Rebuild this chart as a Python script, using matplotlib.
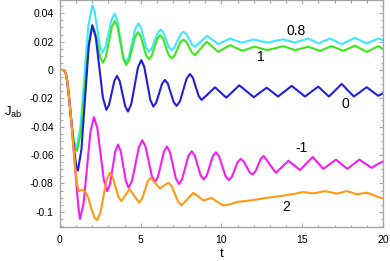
"""Current J_ab(t) for several coupling values, Mathematica-style frame."""

import matplotlib

matplotlib.use("Agg")
import matplotlib.pyplot as plt
from matplotlib.ticker import FixedLocator, MultipleLocator

# series (t, J_ab)
t_08 = [0, 0.25, 0.35, 0.45, 0.55, 0.65, 0.75, 0.85, 0.95, 1.02,
        1.265, 1.51, 1.755, 2.0, 2.155, 2.31, 2.465, 2.62, 2.81, 3.005, 3.2, 3.39,
        3.56, 3.73, 3.9, 4.07, 4.265, 4.46, 4.655, 4.85, 5.01, 5.175, 5.34, 5.5,
        5.68, 5.865, 6.05, 6.23, 6.4, 6.57, 6.74, 6.91, 7.09, 7.275, 7.46, 7.64,
        7.82, 8.0, 8.18, 8.36, 8.74, 9.12, 9.46, 9.8, 10.165, 10.53, 10.89, 11.25,
        11.61, 11.97, 12.41, 12.85, 13.33, 13.8, 14.18, 14.55, 14.96, 15.37, 15.69,
        16.0, 16.36, 16.72, 17.08, 17.44, 17.86, 18.27, 18.63, 18.99, 19.35, 19.71, 20.0]
j_08 = [0, 0, -0.002, -0.008, -0.018, -0.030, -0.041, -0.050, -0.054, -0.055,
        -0.0403, -0.0047, 0.0309, 0.0456, 0.0407, 0.0289, 0.0170, 0.0121, 0.0161, 0.026, 0.0358, 0.0398,
        0.0347, 0.0225, 0.0102, 0.0051, 0.0091, 0.019, 0.0288, 0.0328, 0.0299, 0.0228, 0.0157, 0.0128,
        0.0151, 0.0207, 0.0262, 0.0285, 0.0264, 0.0213, 0.0161, 0.014, 0.0159, 0.0205, 0.025, 0.0269,
        0.0254, 0.0217, 0.0179, 0.0164, 0.0203, 0.0241, 0.0212, 0.0182, 0.0202, 0.0222, 0.0207, 0.0192,
        0.0204, 0.0215, 0.0204, 0.0193, 0.0205, 0.0216, 0.0205, 0.0194, 0.0208, 0.0222, 0.0205,
        0.0187, 0.0205, 0.0222, 0.0202, 0.0182, 0.0205, 0.0227, 0.0207, 0.0187, 0.0205, 0.0222, 0.021]

t_1 = [0, 0.25, 0.35, 0.45, 0.55, 0.65, 0.75, 0.85, 0.95, 1.06,
       1.295, 1.53, 1.765, 2.0, 2.165, 2.33, 2.495, 2.66, 2.84, 3.025, 3.21, 3.39,
       3.57, 3.745, 3.92, 4.1, 4.28, 4.465, 4.65, 4.83, 4.995, 5.165, 5.33, 5.5,
       5.675, 5.85, 6.025, 6.2, 6.38, 6.555, 6.73, 6.91, 7.09, 7.275, 7.46, 7.64,
       7.82, 8.0, 8.18, 8.36, 8.72, 9.08, 9.44, 9.8, 10.165, 10.53, 10.915, 11.3,
       11.675, 12.05, 12.45, 12.85, 13.34, 13.83, 14.19, 14.55, 14.96, 15.37, 15.73,
       16.1, 16.46, 16.82, 17.18, 17.54, 17.9, 18.27, 18.63, 18.99, 19.35, 19.71, 20.0]
j_1 = [0, 0, -0.002, -0.008, -0.018, -0.030, -0.041, -0.050, -0.055, -0.057,
       -0.0442, -0.0131, 0.0181, 0.0309, 0.0271, 0.018, 0.0089, 0.0051, 0.0094, 0.0199, 0.0303, 0.0346,
       0.0301, 0.0191, 0.008, 0.0035, 0.0069, 0.0151, 0.0233, 0.0267, 0.0239, 0.0171, 0.0103, 0.0075,
       0.01, 0.0161, 0.0221, 0.0246, 0.0222, 0.0164, 0.0106, 0.0082, 0.0101, 0.0149, 0.0196, 0.0215,
       0.0199, 0.016, 0.0121, 0.0105, 0.0152, 0.0199, 0.0164, 0.0128, 0.0152, 0.0175, 0.0155, 0.0135,
       0.015, 0.0165, 0.0152, 0.014, 0.0154, 0.0168, 0.0154, 0.014, 0.0152, 0.0164, 0.015,
       0.0135, 0.0152, 0.0168, 0.0152, 0.0135, 0.0153, 0.0172, 0.015, 0.0128, 0.0148, 0.0168, 0.0148]

t_0 = [0, 0.25, 0.35, 0.45, 0.55, 0.65, 0.75, 0.85, 0.95, 1.03, 1.11,
       1.33, 1.555, 1.78, 2.0, 2.22, 2.435, 2.655, 2.87, 3.035, 3.2, 3.365, 3.53,
       3.7, 3.87, 4.04, 4.21, 4.415, 4.62, 4.825, 5.03, 5.22, 5.405, 5.59, 5.78,
       5.96, 6.14, 6.32, 6.5, 6.68, 6.86, 7.04, 7.22, 7.43, 7.635, 7.84, 8.05,
       8.23, 8.41, 8.59, 8.77, 9.185, 9.6, 9.95, 10.3, 10.7, 11.1, 11.55, 12.0,
       12.4, 12.8, 13.15, 13.5, 13.92, 14.35, 14.76, 15.17, 15.58, 15.99, 16.32, 16.65,
       17.05, 17.44, 17.82, 18.2, 18.6, 18.99, 19.35, 19.71, 20.0]
j_0 = [0, 0, -0.002, -0.008, -0.018, -0.030, -0.042, -0.053, -0.063, -0.069, -0.0709,
       -0.0559, -0.0197, 0.0166, 0.0316, 0.0229, 0.0018, -0.0194, -0.0281, -0.0246, -0.0162, -0.0077, -0.0042,
       -0.0079, -0.0168, -0.0256, -0.0293, -0.024, -0.0112, 0.0017, 0.007, 0.0022, -0.0094, -0.021, -0.0258,
       -0.023, -0.0164, -0.0097, -0.007, -0.0097, -0.0162, -0.0226, -0.0253, -0.022, -0.0141, -0.0061, -0.0028,
       -0.0055, -0.012, -0.0184, -0.0211, -0.0167, -0.0122, -0.0159, -0.0195, -0.0152, -0.0108, -0.015, -0.0192,
       -0.0158, -0.0125, -0.0156, -0.0187, -0.015, -0.0112, -0.015, -0.0187, -0.0152, -0.0117, -0.0152, -0.0187,
       -0.0143, -0.0098, -0.0143, -0.0187, -0.0154, -0.0121, -0.0152, -0.0182, -0.0165]

t_m1 = [0, 0.25, 0.35, 0.45, 0.55, 0.65, 0.75, 0.85, 0.95, 1.05, 1.15, 1.24,
        1.455, 1.67, 1.885, 2.1, 2.31, 2.515, 2.72, 2.93, 3.095, 3.26, 3.425, 3.59,
        3.755, 3.92, 4.085, 4.25, 4.46, 4.675, 4.885, 5.1, 5.295, 5.49, 5.685, 5.88,
        6.065, 6.25, 6.435, 6.62, 6.805, 6.99, 7.175, 7.36, 7.56, 7.755, 7.95, 8.15,
        8.34, 8.525, 8.71, 8.9, 9.09, 9.275, 9.46, 9.65, 9.85, 10.05, 10.25, 10.45,
        10.635, 10.82, 11.005, 11.19, 11.37, 11.555, 11.74, 11.92, 12.09, 12.265, 12.44, 12.61,
        12.99, 13.37, 13.755, 14.14, 14.5, 14.86, 15.255, 15.65, 15.975, 16.3, 16.695, 17.09,
        17.44, 17.79, 18.16, 18.53, 18.915, 19.3, 19.65, 20.0]
j_m1 = [0, 0, -0.002, -0.008, -0.018, -0.030, -0.043, -0.057, -0.071, -0.085, -0.098, -0.105,
        -0.0945, -0.0691, -0.0437, -0.0332, -0.0408, -0.0593, -0.0778, -0.0854, -0.0806, -0.069, -0.0574, -0.0526,
        -0.057, -0.0678, -0.0786, -0.083, -0.0781, -0.0663, -0.0545, -0.0496, -0.0539, -0.0643, -0.0747, -0.079,
        -0.0753, -0.0665, -0.0577, -0.054, -0.0578, -0.0672, -0.0765, -0.0803, -0.077, -0.0688, -0.0606, -0.0573,
        -0.0602, -0.0673, -0.0743, -0.0772, -0.0744, -0.0676, -0.0608, -0.058, -0.0609, -0.0679, -0.0748, -0.0777,
        -0.0755, -0.0702, -0.0649, -0.0627, -0.0643, -0.0682, -0.0721, -0.0737, -0.0718, -0.0672, -0.0625, -0.0606,
        -0.0666, -0.0725, -0.0683, -0.064, -0.0672, -0.0705, -0.0659, -0.0613, -0.0655, -0.0697, -0.0665, -0.0632,
        -0.0665, -0.0697, -0.0665, -0.0632, -0.0661, -0.069, -0.0665, -0.0645]

t_2 = [0, 0.25, 0.35, 0.45, 0.55, 0.65, 0.75, 0.85, 0.95, 1.05, 1.16,
       1.35, 1.55, 1.75, 1.95, 2.15, 2.31, 2.5, 2.695, 2.885, 3.08, 3.26, 3.44, 3.62, 3.8,
       4.055, 4.31, 4.6, 4.9, 5.08, 5.255, 5.43, 5.61, 5.9, 6.19, 6.45, 6.71,
       6.915, 7.12, 7.325, 7.53, 7.895, 8.26, 8.57, 8.88, 9.135, 9.39, 9.745, 10.1,
       10.6, 10.94, 11.46, 11.97, 12.59, 13.2, 13.62, 14.04, 14.45, 14.86, 15.07, 15.4,
       15.69, 16.05, 16.41, 16.77, 17.13, 17.45, 17.75, 18.05, 18.37, 18.7, 18.99, 19.4, 19.81, 20.0]
j_2 = [0, 0, -0.002, -0.008, -0.018, -0.030, -0.043, -0.057, -0.070, -0.080, -0.0854,
       -0.0845, -0.0855, -0.090, -0.098, -0.1045, -0.1057, -0.1008, -0.0891, -0.0774, -0.0725, -0.0754, -0.0825, -0.0895, -0.0924,
       -0.0882, -0.084, -0.0888, -0.0935, -0.0909, -0.0848, -0.0786, -0.076, -0.0798, -0.0835, -0.0815, -0.0795,
       -0.0818, -0.0875, -0.0931, -0.0954, -0.091, -0.0866, -0.0893, -0.092, -0.0911, -0.0902, -0.093, -0.0955,
       -0.0945, -0.0931, -0.0924, -0.0917, -0.0905, -0.0895, -0.0889, -0.0882, -0.0875, -0.0865, -0.0861, -0.0866,
       -0.087, -0.0862, -0.0854, -0.0862, -0.0872, -0.0863, -0.0854, -0.0864, -0.0877, -0.087, -0.0865, -0.0882, -0.09, -0.0905]

series = [
    (t_08, j_08, "#3ce8ff"),
    (t_1, j_1, "#3fe61c"),
    (t_0, j_0, "#2020dc"),
    (t_m1, j_m1, "#f51ef0"),
    (t_2, j_2, "#ff9a12"),
]

curve_labels = ["0.8", "1", "0", "-1", "2"]
label_t = [14.6, 12.43, 17.65, 14.97, 14.0]
label_j = [0.0274, 0.0089, -0.0239, -0.055, -0.0964]

y_ticks = [0.04, 0.02, 0, -0.02, -0.04, -0.06, -0.08, -0.1]
y_tick_labels = ["0.04", "0.02", "0", "-0.02", "-0.04", "-0.06", "-0.08", "-0.1"]
x_ticks = [0, 5, 10, 15, 20]

plt.rcParams["font.family"] = ["Liberation Sans", "DejaVu Sans"]

fig = plt.figure(figsize=(3.9, 2.61), dpi=100)
ax = fig.add_axes([0.1538, 0.1314, 0.8282, 0.8667])

for t, j, color in series:
    ax.plot(t, j, color=color, lw=1.5, solid_joinstyle="round")

for text, tx, ty in zip(curve_labels, label_t, label_j):
    ax.text(tx, ty, text, fontsize=10, ha="center", va="center")

ax.set_xlim(0, 20)
ax.set_ylim(-0.1105, 0.049)
ax.xaxis.set_major_locator(FixedLocator(x_ticks))
ax.xaxis.set_minor_locator(MultipleLocator(1))
ax.set_yticks(y_ticks, labels=y_tick_labels)
ax.yaxis.set_minor_locator(MultipleLocator(0.005))

frame = "#a6a6a6"
for spine in ax.spines.values():
    spine.set_color(frame)
    spine.set_linewidth(1.0)
ax.tick_params(which="both", direction="in", color=frame, width=0.8,
               top=True, right=True, labelsize=7.5, labelcolor="black")
ax.tick_params(which="major", length=3.2)
ax.tick_params(which="minor", length=1.8)
ax.tick_params(axis="x", pad=6)
ax.tick_params(axis="y", pad=4.5)

ax.set_xlabel("t", fontsize=9.5, labelpad=2)
ax.set_ylabel(r"$\mathregular{J_{ab}}$", fontsize=9.5, rotation=0, labelpad=0)
ax.yaxis.set_label_coords(-0.145, 0.47)

fig.savefig("out.png", dpi=100)
